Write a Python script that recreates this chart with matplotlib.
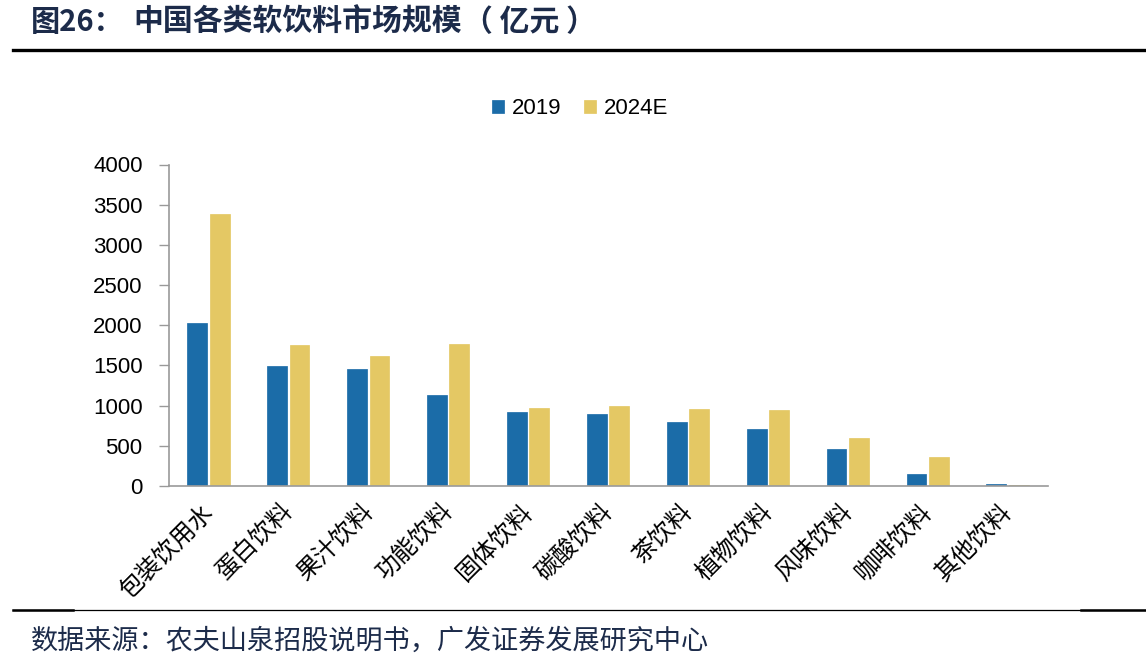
import matplotlib
matplotlib.use("Agg")
import matplotlib.pyplot as plt
import numpy as np
from matplotlib.lines import Line2D

plt.rcParams['font.family'] = ['Liberation Sans', 'Noto Sans CJK SC', 'DejaVu Sans']

categories = ["包装饮用水", "蛋白饮料", "果汁饮料", "功能饮料", "固体饮料", "碳酸饮料",
              "茶饮料", "植物饮料", "风味饮料", "咖啡饮料", "其他饮料"]
values_2019 = [2030, 1490, 1450, 1135, 925, 898, 800, 705, 460, 145, 20]
values_2024E = [3380, 1755, 1617, 1770, 966, 992, 954, 950, 601, 357, 18]
series_names = ["2019", "2024E"]
yticks = [0, 500, 1000, 1500, 2000, 2500, 3000, 3500, 4000]

title_prefix = "图26："
title_text = "中国各类软饮料市场规模"
title_unit = "（ 亿元 ）"
source_text = "数据来源：农夫山泉招股说明书，广发证券发展研究中心"

blue = "#1b6ca8"
yellow = "#e4c864"

fig = plt.figure(figsize=(11.46, 6.61), dpi=100)
ax = fig.add_axes([169/1146, 1-486/661, (1048-169)/1146, (486-164.5)/661])

x = np.arange(len(categories))
w = 0.26
ax.bar(x - 0.14, values_2019, width=w, color=blue, edgecolor="white", linewidth=0.2, label=series_names[0])
ax.bar(x + 0.14, values_2024E, width=w, color=yellow, edgecolor="white", linewidth=0.2, label=series_names[1])

ax.set_xlim(-0.5, len(categories) - 0.5)
ax.set_ylim(0, 4000)
ax.set_yticks(yticks)
ax.set_yticklabels([str(v) for v in yticks], fontsize=16, family=['Liberation Sans'])
ax.tick_params(axis='y', direction='out', length=7, width=1, color='#999999', pad=12)
ax.set_xticks(x)
ax.set_xticklabels(categories, rotation=45, ha='right', va='center', rotation_mode='anchor',
                   fontsize=17.5, family=['Noto Sans CJK SC'])
ax.tick_params(axis='x', length=0, pad=16)
for s in ['top', 'right']:
    ax.spines[s].set_visible(False)
for s in ['left', 'bottom']:
    ax.spines[s].set_color('#999999')
    ax.spines[s].set_linewidth(1.2)

leg = fig.legend(loc='center', bbox_to_anchor=(580/1146, 1-109/661), ncol=2, frameon=False,
                 handlelength=0.6, handleheight=0.6, handletextpad=0.3,
                 columnspacing=1.0, prop={'family': 'Liberation Sans', 'size': 16})

# title
fig.text(31/1146, 1-22/661, title_prefix, fontsize=21, fontweight='bold', color='#1c2b4a',
         va='center', ha='left', family=['Noto Sans CJK SC'])
fig.text(133/1146, 1-22/661, title_text, fontsize=21.5, fontweight='bold', color='#1c2b4a',
         va='center', ha='left', family=['Noto Sans CJK SC'])
fig.text(463/1146, 1-22/661, title_unit, fontsize=21.5, fontweight='bold', color='#1c2b4a',
         va='center', ha='left', family=['Noto Sans CJK SC'])
# lines
fig.add_artist(Line2D([13/1146, 1], [1-50/661, 1-50/661], color='black', linewidth=2.4))
fig.add_artist(Line2D([13/1146, 1], [1-610/661, 1-610/661], color='black', linewidth=0.9))
fig.add_artist(Line2D([13/1146, 73/1146], [1-609.5/661, 1-609.5/661], color='black', linewidth=1.8))
fig.add_artist(Line2D([1081/1146, 1], [1-609.5/661, 1-609.5/661], color='black', linewidth=1.8))
# source
fig.text(31/1146, 1-641/661, source_text, fontsize=19.5, color='#1c2b4a', va='center', ha='left',
         family=['Noto Sans CJK SC'])

fig.savefig("out.png", dpi=100)
